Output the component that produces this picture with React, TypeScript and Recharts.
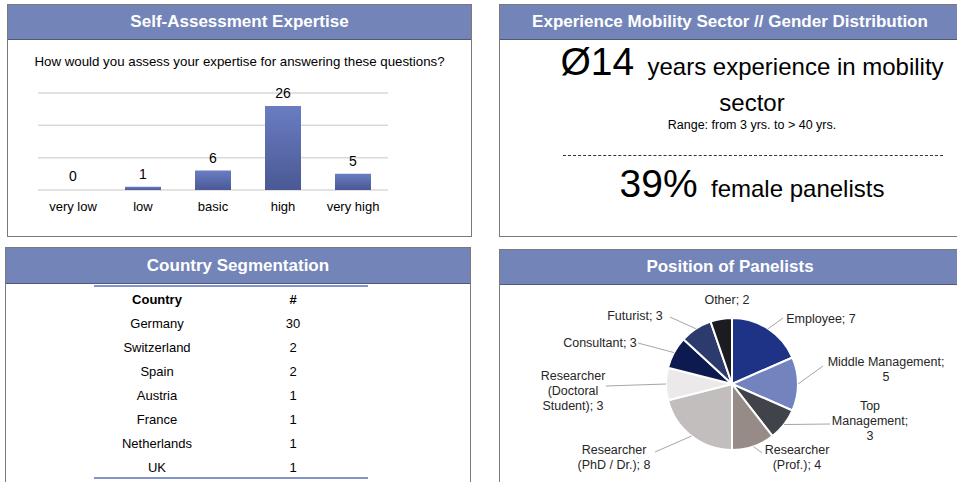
import React from "react";
import { BarChart, Bar, XAxis, YAxis, CartesianGrid, LabelList, PieChart, Pie, Cell } from "recharts";

// Self-assessment expertise
const expertiseLevels = ["very low", "low", "basic", "high", "very high"];
const expertiseCounts = [0, 1, 6, 26, 5];
const expertiseTicks = [0, 10, 20, 30];

// Country segmentation
const countries = ["Germany", "Switzerland", "Spain", "Austria", "France", "Netherlands", "UK"];
const countryCounts = [30, 2, 2, 1, 1, 1, 1];

// Position of panelists
const positions = [
  "Employee",
  "Middle Management",
  "Top Management",
  "Researcher (Prof.)",
  "Researcher (PhD / Dr.)",
  "Researcher (Doctoral Student)",
  "Consultant",
  "Futurist",
  "Other",
];
const positionCounts = [7, 5, 3, 4, 8, 3, 3, 3, 2];
const positionColors = [
  "#1f3386", "#7283bd", "#404349", "#978b88", "#c2bebd",
  "#ebe9ea", "#0c1a4f", "#2d3a6e", "#1c1c20",
];

const FONT = "'Liberation Sans', Arial, sans-serif";
const HEADER = "#7384b8";

// label placement around the pie (offsets from centre), leader end, wrap width
const labelLayout = [
  { tx: 89, ty: -65, lx: 51, ly: -66, wrap: 30 },
  { tx: 154, ty: -15, lx: 91, ly: -18, wrap: 18 },
  { tx: 138, ty: 37, lx: 98, ly: 40, wrap: 11 },
  { tx: 65, ty: 73, lx: 30, ly: 69, wrap: 10 },
  { tx: -118, ty: 73, lx: -77, ly: 68, wrap: 14 },
  { tx: -159, ty: 7, lx: -126, ly: 2, wrap: 11 },
  { tx: -132, ty: -41, lx: -94, ly: -41, wrap: 30 },
  { tx: -97, ty: -68, lx: -62, ly: -67, wrap: 30 },
  { tx: -5, ty: -84, lx: null, ly: null, wrap: 30 },
];

const wrapText = (text: string, max: number) => {
  const lines: string[] = [];
  let cur = "";
  text.split(" ").forEach((w) => {
    const next = cur ? cur + " " + w : w;
    if (next.length > max && cur) {
      lines.push(cur);
      cur = w;
    } else {
      cur = next;
    }
  });
  if (cur) lines.push(cur);
  return lines;
};

const expertiseData = expertiseLevels.map((level, i) => ({ level, count: expertiseCounts[i] }));
const positionData = positions.map((name, i) => ({ name, value: positionCounts[i] }));

const RAD = Math.PI / 180;

const PieLabel = (props: any) => {
  const { cx, cy, midAngle, outerRadius, index, name, value } = props;
  const lay = labelLayout[index];
  const lines = wrapText(`${name}; ${value}`, lay.wrap);
  const lh = 15;
  const firstY = cy + lay.ty - ((lines.length - 1) * lh) / 2;
  const sx = cx + outerRadius * Math.cos(-midAngle * RAD);
  const sy = cy + outerRadius * Math.sin(-midAngle * RAD);
  return (
    <g>
      {lay.lx !== null && (
        <polyline
          points={`${sx},${sy} ${cx + lay.lx},${cy + lay.ly}`}
          fill="none"
          stroke="#a6a6a6"
          strokeWidth={1}
        />
      )}
      <text x={cx + lay.tx} y={firstY} textAnchor="middle" dominantBaseline="central" fontSize={12.5} fill="#262626" fontFamily={FONT}>
        {lines.map((l, i) => (
          <tspan key={i} x={cx + lay.tx} dy={i === 0 ? 0 : lh}>{l}</tspan>
        ))}
      </text>
    </g>
  );
};

// value label above each bar, also for the zero bar
const BarValue = (props: any) => {
  const { x, y, width, value } = props;
  return (
    <text x={x + width / 2} y={y - 8} textAnchor="middle" fontSize={14} fill="#000" fontFamily={FONT}>
      {value}
    </text>
  );
};

const Panel = ({ left, top, width, height, headerH, title, children }: any) => (
  <div
    style={{
      position: "absolute",
      left,
      top,
      width,
      height,
      border: "1.5px solid #7a7a7a",
      boxSizing: "border-box",
      background: "#fff",
    }}
  >
    <div
      style={{
        height: headerH,
        background: HEADER,
        borderBottom: "1.5px solid #505a78",
        boxSizing: "border-box",
        color: "#fff",
        fontWeight: "bold",
        fontSize: 17,
        display: "flex",
        alignItems: "center",
        justifyContent: "center",
      }}
    >
      {title}
    </div>
    {children}
  </div>
);

const abs = (left: number, top: number, extra: any = {}) => ({ position: "absolute" as const, left, top, ...extra });

export default function App() {
  return (
    <div style={{ position: "absolute", left: 0, top: 0, width: 957, height: 482, overflow: "hidden", background: "#fff", fontFamily: FONT, color: "#000" }}>
      <Panel left={7} top={4} width={465} height={233} headerH={35} title="Self-Assessment Expertise" />
      <div style={abs(7, 54, { width: 465, textAlign: "center", fontSize: 13.3 })}>
        How would you assess your expertise for answering these questions?
      </div>
      <div style={abs(30, 80)}>
        <BarChart width={366} height={140} data={expertiseData} margin={{ top: 13, right: 8, left: 8, bottom: 0 }}>
          <defs>
            <linearGradient id="barGrad" x1="0" y1="0" x2="0" y2="1">
              <stop offset="0%" stopColor="#6a7dc2" />
              <stop offset="100%" stopColor="#4a5994" />
            </linearGradient>
          </defs>
          <CartesianGrid vertical={false} stroke="#d9d9d9" strokeWidth={1.5} />
          <YAxis hide domain={[0, 30]} ticks={expertiseTicks} />
          <XAxis dataKey="level" height={30} axisLine={false} tickLine={false} tickMargin={6} tick={{ fontSize: 13, fill: "#000", fontFamily: FONT }} />
          <Bar dataKey="count" fill="url(#barGrad)" barSize={36} minPointSize={1} isAnimationActive={false}>
            {expertiseData.map((d) => (
              <Cell key={d.level} fill={d.count === 0 ? "transparent" : "url(#barGrad)"} />
            ))}
            <LabelList dataKey="count" content={BarValue} />
          </Bar>
        </BarChart>
      </div>

      <Panel left={499} top={4} width={462} height={233} headerH={35} title="Experience Mobility Sector // Gender Distribution" />
      <div style={abs(499, 40, { width: 506, textAlign: "center", lineHeight: "normal" })}>
        <div style={{ whiteSpace: "nowrap", height: 44 }}>
          <span style={{ fontSize: 39 }}>Ø14</span>
          <span style={{ fontSize: 24 }}>&nbsp; years experience in mobility</span>
        </div>
      </div>
      <div style={abs(499, 89, { width: 506, textAlign: "center", fontSize: 24 })}>sector</div>
      <div style={abs(499, 118, { width: 506, textAlign: "center", fontSize: 12.5 })}>Range: from 3 yrs. to &gt; 40 yrs.</div>
      <div style={abs(563, 155, { width: 380, borderTop: "1px dashed #333" })} />
      <div style={abs(499, 162, { width: 506, textAlign: "center", whiteSpace: "nowrap" })}>
        <span style={{ fontSize: 39 }}>39%</span>
        <span style={{ fontSize: 24 }}>&nbsp; female panelists</span>
      </div>

      <Panel left={5} top={247} width={466} height={250} headerH={36} title="Country Segmentation" />
      <div style={abs(94, 285, { width: 274, height: 2, background: "#8394cc" })} />
      <div style={abs(94, 477, { width: 274, height: 2, background: "#8394cc" })} />
      <div style={abs(94, 287, { width: 274, fontSize: 13 })}>
        {[{ c: "Country", n: "#", bold: true }, ...countries.map((c, i) => ({ c, n: String(countryCounts[i]), bold: false }))].map((r, i) => (
          <div key={i} style={{ display: "flex", height: 24, alignItems: "center", fontWeight: r.bold ? "bold" : "normal" }}>
            <div style={{ width: 126, textAlign: "center" }}>{r.c}</div>
            <div style={{ width: 146, textAlign: "center" }}>{r.n}</div>
          </div>
        ))}
      </div>

      <Panel left={499} top={249} width={462} height={250} headerH={35} title="Position of Panelists" />
      <div style={abs(499, 284)}>
        <PieChart width={462} height={198} margin={{ top: 0, right: 0, bottom: 0, left: 0 }}>
          <Pie
            data={positionData}
            dataKey="value"
            nameKey="name"
            cx={233}
            cy={100}
            outerRadius={66}
            startAngle={90}
            endAngle={-270}
            stroke="#fff"
            strokeWidth={2}
            label={PieLabel}
            labelLine={false}
            isAnimationActive={false}
          >
            {positionData.map((d, i) => (
              <Cell key={d.name} fill={positionColors[i]} />
            ))}
          </Pie>
        </PieChart>
      </div>
    </div>
  );
}
